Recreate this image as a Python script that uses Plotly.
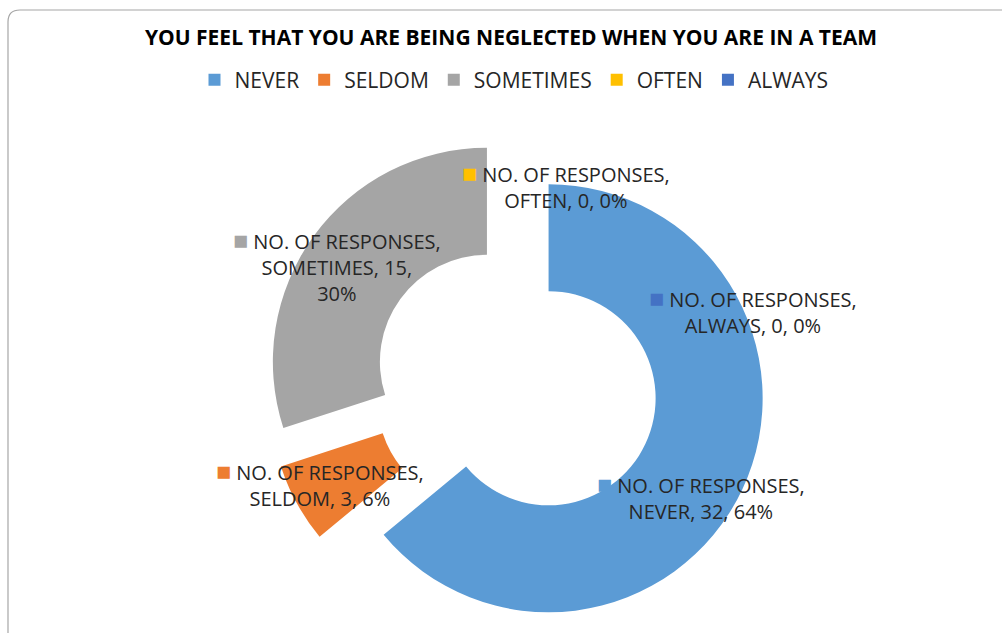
import plotly.graph_objects as go

# Survey data
categories = ["NEVER", "SELDOM", "SOMETIMES", "OFTEN", "ALWAYS"]
responses = [32, 3, 15, 0, 0]
series_name = "NO. OF RESPONSES"
colors = ["#5B9BD5", "#ED7D31", "#A5A5A5", "#FFC000", "#4472C4"]

title_text = "YOU FEEL THAT YOU ARE BEING NEGLECTED WHEN YOU ARE IN A TEAM"

W, H = 1002, 633
total = sum(responses)

fig = go.Figure()
fig.add_trace(go.Pie(
    labels=categories,
    values=responses,
    marker=dict(colors=colors, line=dict(width=0)),
    hole=0.5,
    sort=False,
    direction="clockwise",
    rotation=0,
    pull=[0.168] * len(categories),
    textinfo="none",
    hoverinfo="label+value+percent",
    domain=dict(x=[0.1, 0.93], y=[0.0, 0.79]),
    showlegend=True,
))

# Data labels: legend key + series, category, value, percentage
label_pos = {
    "NEVER": (701, 495),
    "SELDOM": (320, 482),
    "SOMETIMES": (337, 265),
    "OFTEN": (566, 184),
    "ALWAYS": (753, 309),
}
label_lines = {
    "NEVER": "{s},<br>{c}, {v}, {p}",
    "SELDOM": "{s},<br>{c}, {v}, {p}",
    "SOMETIMES": "{s},<br>{c}, {v},<br>{p}",
    "OFTEN": "{s},<br>{c}, {v}, {p}",
    "ALWAYS": "{s},<br>{c}, {v}, {p}",
}
annotations = []
for cat, val, col in zip(categories, responses, colors):
    pct = f"{round(100 * val / total)}%"
    body = label_lines[cat].format(s=series_name, c=cat, v=val, p=pct)
    text = f"<span style='color:{col};font-size:25px'>■</span> " + body
    x, y = label_pos[cat]
    annotations.append(dict(
        x=x / W, y=1 - y / H, xref="paper", yref="paper",
        text=text, showarrow=False, align="center",
        xanchor="center", yanchor="middle",
        font=dict(family="Open Sans", size=20, color="#262626"),
    ))

# Chart-area frame with a rounded top-left corner
def px(x, y):
    return f"{x / W:.5f},{1 - y / H:.5f}"

frame_path = (
    f"M{px(8, 660)} L{px(8, 22)} Q{px(8, 10)} {px(20, 10)} L{px(1020, 10)}"
)

fig.update_layout(
    width=W, height=H,
    margin=dict(l=0, r=0, t=0, b=0),
    paper_bgcolor="white",
    plot_bgcolor="white",
    title=dict(
        text=f"<b>{title_text}</b>",
        x=511 / W, xanchor="center",
        y=1 - 38 / H, yanchor="middle",
        font=dict(family="Open Sans", size=21, color="#000000"),
    ),
    legend=dict(
        orientation="h",
        x=514 / W, xanchor="center",
        y=1 - 80 / H, yanchor="middle",
        font=dict(family="Open Sans", size=21, color="#262626"),
        traceorder="normal",
    ),
    annotations=annotations,
    shapes=[dict(
        type="path", path=frame_path, xref="paper", yref="paper",
        line=dict(color="#A6A6A6", width=1.2),
    )],
)

fig.write_html("out.html")
